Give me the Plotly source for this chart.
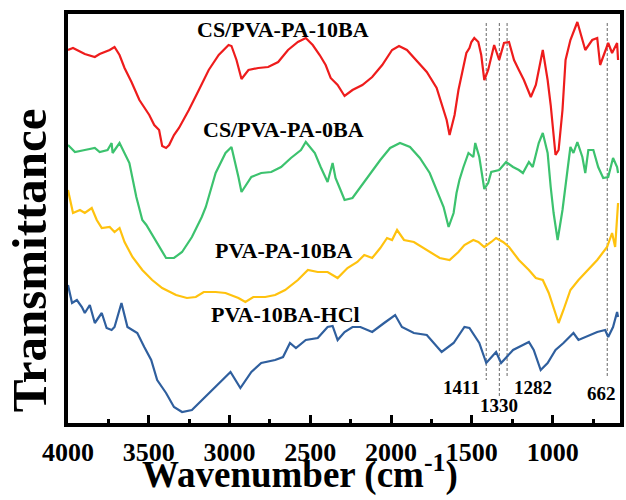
import plotly.graph_objects as go

# ---- data (wavenumber cm-1, transmittance a.u. with vertical offsets) ----
red_w = [4000,3969,3896,3834,3804,3742,3712,3681,3650,3607,3558,3497,3466,3436,3417,3393,3374,3344,3313,3252,3190,3129,3067,3006,2988,2957,2926,2883,2822,2761,2699,2638,2577,2528,2485,2442,2405,2374,2331,2288,2239,2178,2117,2055,1994,1951,1902,1840,1779,1718,1687,1656,1638,1607,1583,1564,1534,1515,1503,1485,1460,1442,1423,1399,1362,1331,1301,1270,1239,1209,1178,1135,1104,1061,1031,1012,994,982,963,939,920,890,847,828,798,755,724,706,656,632,601,595]
red_t = [373,375,369,366,369,373,376,368,355,341,323,308,298,293,277,275,278,288,295,313,333,353,368,378,377,363,344,353,355,356,361,373,381,385,378,368,358,345,338,327,333,338,346,358,373,377,373,362,351,335,318,303,288,308,333,348,370,375,381,385,381,368,343,353,378,363,380,381,363,353,343,326,338,373,343,318,288,268,273,313,363,383,401,390,373,383,385,358,380,370,380,363]

green_w = [4000,3957,3896,3834,3804,3755,3730,3724,3681,3620,3577,3540,3515,3436,3393,3344,3294,3233,3172,3147,3086,3025,2988,2945,2926,2865,2804,2742,2681,2620,2558,2528,2472,2436,2393,2362,2344,2313,2288,2239,2190,2129,2067,2006,1945,1883,1822,1761,1718,1675,1644,1613,1595,1577,1552,1521,1491,1479,1454,1423,1399,1380,1331,1288,1245,1209,1184,1147,1123,1086,1061,1031,1012,994,969,951,939,908,890,871,847,816,798,779,748,718,687,656,626,601,595]
green_t = [278,271,273,275,271,273,280,270,280,260,226,203,198,176,165,165,171,186,206,216,250,270,276,246,231,246,250,251,256,265,273,281,270,256,241,260,245,233,223,225,236,250,263,275,280,276,265,250,233,216,196,210,230,243,256,270,266,280,266,234,240,251,253,261,256,253,250,261,256,280,290,270,236,210,183,203,213,253,276,270,281,266,250,273,273,256,245,246,265,256,250]

yellow_w = [4000,3969,3926,3896,3853,3822,3791,3742,3712,3681,3650,3601,3540,3479,3417,3331,3264,3209,3160,3086,3025,2945,2902,2853,2779,2718,2656,2577,2534,2515,2454,2393,2331,2270,2209,2166,2117,2067,2025,1994,1963,1920,1859,1779,1699,1638,1583,1546,1491,1460,1423,1380,1350,1307,1270,1209,1147,1104,1061,1024,982,963,933,890,840,785,724,663,632,613,601,595]
yellow_t = [233,210,213,210,215,203,195,196,191,195,181,166,153,143,135,128,125,126,131,131,130,125,121,126,126,128,133,143,150,153,151,151,145,155,161,168,165,175,185,183,193,183,181,173,165,163,171,178,183,181,176,181,185,181,176,163,153,145,143,130,110,100,113,133,143,153,163,176,190,176,200,220]

blue_w = [4000,3975,3945,3914,3896,3865,3834,3791,3761,3730,3712,3669,3632,3571,3528,3485,3448,3393,3344,3294,3233,3190,3129,3049,2994,2933,2865,2804,2718,2669,2626,2589,2528,2454,2393,2362,2331,2288,2239,2190,2147,2117,2043,1975,1933,1859,1779,1687,1613,1546,1515,1454,1411,1350,1319,1245,1184,1147,1117,1074,1031,982,933,871,840,798,724,675,656,626,601,595]
blue_t = [138,120,123,116,110,118,100,110,95,93,96,120,96,90,76,63,43,30,16,11,13,20,30,43,51,35,51,60,63,66,80,75,83,85,96,97,83,91,96,96,93,91,100,108,96,90,88,71,80,96,95,80,60,71,60,73,78,81,73,53,60,73,80,90,83,86,91,93,86,96,111,106]

series_names = ["CS/PVA-PA-10BA", "CS/PVA-PA-0BA", "PVA-PA-10BA", "PVA-10BA-HCl"]
series_colors = ["#ee1c1c", "#3cc26e", "#ffc20e", "#2f5f9e"]

label_w = [2669, 2663, 2663, 2656]
label_t = [394, 294, 173, 109]

peak_w = [1411, 1330, 1282, 662]
peak_top = [400, 400, 400, 400]
peak_bottom = [43, 26, 45, 45]
peak_label_w = [1564, 1331, 1123, 700]
peak_label_t = [36, 18, 36, 30]

FONT = "Liberation Serif"

fig = go.Figure()

# dashed reference lines
for w, t0, t1 in zip(peak_w, peak_top, peak_bottom):
    fig.add_trace(go.Scatter(x=[w, w], y=[t0, t1], mode="lines",
                             line=dict(color="#666666", width=1, dash="3px,2px"),
                             hoverinfo="skip", showlegend=False))

for xs, ys, name, col in zip([red_w, green_w, yellow_w, blue_w],
                             [red_t, green_t, yellow_t, blue_t],
                             series_names, series_colors):
    fig.add_trace(go.Scatter(x=xs, y=ys, mode="lines", name=name,
                             line=dict(color=col, width=2.2), showlegend=False))

annotations = []
for name, w, t in zip(series_names, label_w, label_t):
    annotations.append(dict(x=w, y=t, xref="x", yref="y", text="<b>%s</b>" % name,
                            showarrow=False, xanchor="center", yanchor="middle",
                            font=dict(family=FONT, size=22, color="black")))
for w, lw, lt in zip(peak_w, peak_label_w, peak_label_t):
    annotations.append(dict(x=lw, y=lt, xref="x", yref="y", text="<b>%d</b>" % w,
                            showarrow=False, xanchor="center", yanchor="middle",
                            font=dict(family=FONT, size=19, color="black")))
annotations.append(dict(x=0.42, y=-0.18, xref="paper", yref="paper",
                        text="<b>Wavenumber (cm<sup>-1</sup>)</b>", showarrow=False,
                        xanchor="center", yanchor="bottom", borderpad=0,
                        font=dict(family=FONT, size=37, color="black")))
annotations.append(dict(x=-0.07, y=0.3985, xref="paper", yref="paper",
                        text="<b>Transmittance</b>", showarrow=False, textangle=-90,
                        xanchor="center", yanchor="middle",
                        font=dict(family=FONT, size=49, color="black")))

fig.update_layout(
    width=626, height=500,
    margin=dict(l=68, r=2, t=14, b=77),
    paper_bgcolor="white", plot_bgcolor="white",
    annotations=annotations,
    xaxis=dict(range=[4000, 583], showgrid=False, zeroline=False,
               showline=True, mirror=True, linecolor="black", linewidth=4,
               ticks="inside", ticklen=8, tickwidth=3, tickcolor="black",
               tick0=0, dtick=500, ticklabelstandoff=3,
               tickfont=dict(family=FONT, size=26, color="black"),
               tickprefix="<b>", ticksuffix="</b>",
               minor=dict(ticks="inside", ticklen=4, tickwidth=3, tickcolor="black",
                          tick0=0, dtick=250)),
    yaxis=dict(range=[0, 409], showgrid=False, zeroline=False,
               showline=True, mirror=True, linecolor="black", linewidth=4,
               ticks="", showticklabels=False),
)

fig.write_html("out.html")
